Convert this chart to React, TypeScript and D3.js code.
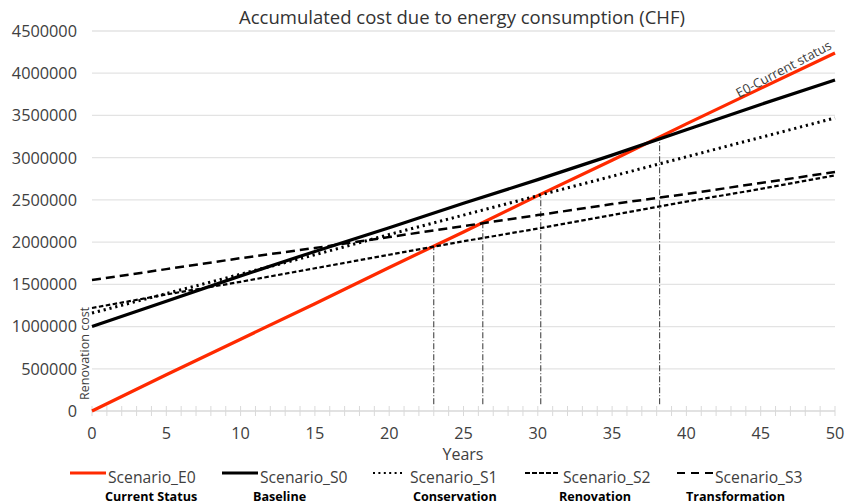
import React from "react";
import * as d3 from "d3";

const years = [0, 5, 10, 15, 20, 25, 30, 35, 40, 45, 50];
const scenarioE0 = [0, 430000, 850000, 1270000, 1700000, 2120000, 2550000, 2970000, 3400000, 3820000, 4240000];
const scenarioS0 = [1000000, 1300000, 1600000, 1890000, 2170000, 2460000, 2740000, 3030000, 3330000, 3630000, 3920000];
const scenarioS1 = [1160000, 1390000, 1620000, 1850000, 2090000, 2320000, 2550000, 2780000, 3010000, 3240000, 3470000];
const scenarioS2 = [1220000, 1380000, 1530000, 1690000, 1850000, 2010000, 2160000, 2320000, 2480000, 2630000, 2790000];
const scenarioS3 = [1550000, 1680000, 1810000, 1930000, 2060000, 2190000, 2320000, 2450000, 2570000, 2700000, 2830000];

const seriesNames = ["Scenario_E0", "Scenario_S0", "Scenario_S1", "Scenario_S2", "Scenario_S3"];
const seriesSubtitles = ["Current Status", "Baseline", "Conservation", "Renovation", "Transformation"];

const breakYears = [23.0, 26.3, 30.2, 38.2];
const breakTops = [1950000, 2225000, 2560000, 3220000];
const breakBottom = 80000;

const yTicks = [0, 500000, 1000000, 1500000, 2000000, 2500000, 3000000, 3500000, 4000000, 4500000];
const xTicks = [0, 5, 10, 15, 20, 25, 30, 35, 40, 45, 50];

const FONT = "'Open Sans', 'Noto Sans', sans-serif";

const styles = [
  { color: "#ff2a00", width: 3.2, dash: "", legendDash: "" },
  { color: "#000000", width: 3.2, dash: "", legendDash: "" },
  { color: "#000000", width: 3, dash: "2.2,3.8", legendDash: "2,3.4" },
  { color: "#000000", width: 2.2, dash: "4.5,2.5", legendDash: "5,2" },
  { color: "#000000", width: 2.5, dash: "9,5", legendDash: "8,6" },
];

const legendX = [70, 222, 373, 525, 677];
const legendTextX = [108, 260, 410, 563, 715];
const legendSubX = [105, 253, 413, 559, 686];

export default function App() {
  const W = 848, H = 504;
  const x = d3.scaleLinear().domain([0, 50]).range([92, 835]);
  const y = d3.scaleLinear().domain([0, 4500000]).range([411, 31]);
  const data = [scenarioE0, scenarioS0, scenarioS1, scenarioS2, scenarioS3];
  const line = d3.line<number>().x((_, i) => x(years[i])).y((d) => y(d));
  const minor = d3.range(0, 51, 1);

  return (
    <svg width={W} height={H} style={{ position: "absolute", left: 0, top: 0 }} fontFamily={FONT}>
      <rect width={W} height={H} fill="#fff" />
      <text x={462} y={24} textAnchor="middle" fontSize={18.5} fill="#333">
        Accumulated cost due to energy consumption (CHF)
      </text>
      {yTicks.map((t) => (
        <g key={t}>
          {t > 0 && <line x1={x(0)} x2={x(50)} y1={y(t)} y2={y(t)} stroke="#e3e3e3" strokeWidth={1.3} />}
          <text x={77} y={y(t)} dy="0.36em" textAnchor="end" fontSize={16.3} fill="#404040">{t}</text>
        </g>
      ))}
      <line x1={x(0)} x2={x(50)} y1={y(0)} y2={y(0)} stroke="#d9d9d9" strokeWidth={1.3} />
      {minor.map((m) => (
        <line key={m} x1={x(m)} x2={x(m)} y1={y(0) - 5} y2={y(0) + 5} stroke="#d9d9d9" strokeWidth={1} />
      ))}
      {xTicks.map((t) => (
        <text key={t} x={x(t)} y={439} textAnchor="middle" fontSize={16.3} fill="#404040">{t}</text>
      ))}
      <text x={463} y={460} textAnchor="middle" fontSize={16} fill="#404040">Years</text>
      <text transform={`translate(89,400) rotate(-90)`} fontSize={12.5} fill="#404040">Renovation cost</text>
      {breakYears.map((b, i) => (
        <line key={b} x1={x(b)} x2={x(b)} y1={y(breakBottom)} y2={y(breakTops[i])} stroke="#333" strokeWidth={1} strokeDasharray="6,2,1,2" />
      ))}
      {data.map((d, i) => (
        <path key={i} d={line(d) || ""} fill="none" stroke={styles[i].color} strokeWidth={styles[i].width} strokeDasharray={styles[i].dash} />
      ))}
      <text transform={`translate(739,98) rotate(-28)`} fontSize={13} fill="#404040">E0-Current status</text>
      {seriesNames.map((n, i) => (
        <g key={n}>
          <line x1={legendX[i]} x2={legendX[i] + (i === 2 ? 29 : i === 3 ? 33 : 36)} y1={473} y2={473} stroke={styles[i].color} strokeWidth={i < 2 ? 3 : 2} strokeDasharray={styles[i].legendDash} />
          <text x={legendTextX[i]} y={483} fontSize={15.7} fill="#404040">{n}</text>
          <text x={legendSubX[i]} y={501} fontSize={12.6} fontWeight="bold" fill="#000">{seriesSubtitles[i]}</text>
        </g>
      ))}
    </svg>
  );
}
